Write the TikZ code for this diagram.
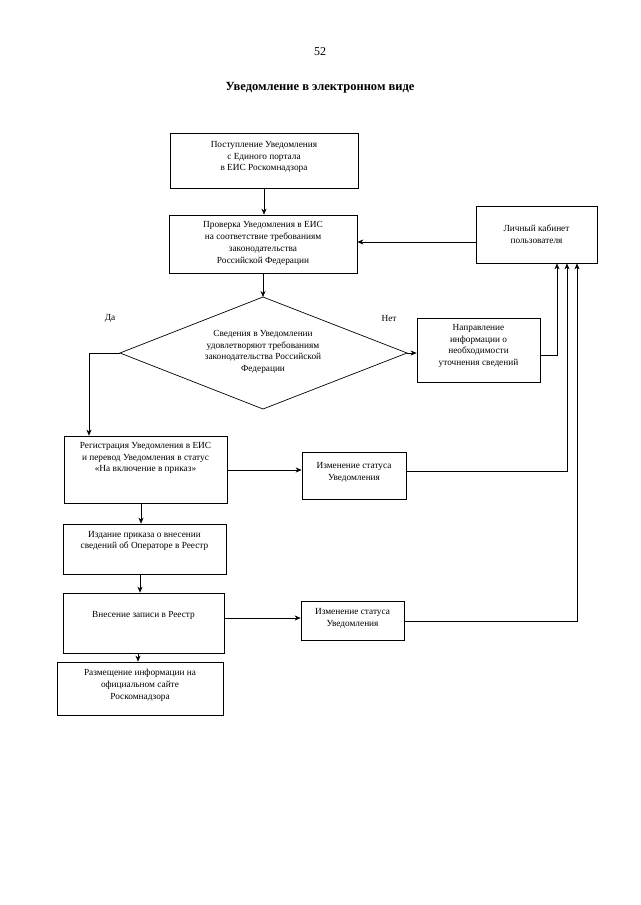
\documentclass[tikz,border=0pt]{standalone}
\usepackage{fontspec}
\setmainfont{Liberation Serif}
\usetikzlibrary{arrows.meta,calc}
\begin{document}
\begin{tikzpicture}[x=1pt,y=-1pt,
  box/.style={draw, line width=0.7pt, inner sep=0pt},
  txt/.style={align=center, font=\fontsize{9.3}{11.8}\selectfont, inner sep=0pt},
  arr/.style={-{Stealth[length=6pt,width=5pt]}, line width=0.6pt},
  ln/.style={line width=0.6pt}]
\fill[white] (0,0) rectangle (640,905);
\path[use as bounding box] (0,0) rectangle (640,905);

% header
\node[font=\fontsize{12}{14}\selectfont] (pg) at (320,52) {52};
\node[font=\fontsize{12.5}{15}\selectfont\bfseries] (title) at (320,88) {Уведомление в электронном виде};

% boxes
\node[box, minimum width=188pt, minimum height=55pt] (b1) at (264,161) {};
\node[txt] (t1) at (264,157) {Поступление Уведомления\\с Единого портала\\в ЕИС Роскомнадзора};

\node[box, minimum width=188pt, minimum height=58pt] (b2) at (263,244) {};
\node[txt] (t2) at (263,243.5) {Проверка Уведомления в ЕИС\\на соответствие требованиям\\законодательства\\Российской Федерации};

% decision diamond
\coordinate (dT) at (263,297);
\coordinate (dL) at (120,353);
\coordinate (dR) at (407,353);
\coordinate (dB) at (263,409);
\draw[line width=0.7pt] (dT) -- (dR) -- (dB) -- (dL) -- cycle;
\node[txt] (td) at (263,352) {Сведения в Уведомлении\\удовлетворяют требованиям\\законодательства Российской\\Федерации};
\node[txt] (yes) at (110,318) {Да};
\node[txt] (no) at (389,318) {Нет};

\node[box, minimum width=121pt, minimum height=57pt] (cab) at (536.5,234.5) {};
\node[txt] (tcab) at (536.5,234) {Личный кабинет\\пользователя};

\node[box, minimum width=123pt, minimum height=64pt] (napr) at (478.5,350) {};
\node[txt] (tnapr) at (478.5,346) {Направление\\информации о\\необходимости\\уточнения сведений};

\node[box, minimum width=163pt, minimum height=67pt] (reg) at (145.5,469.5) {};
\node[txt] (treg) at (145.5,458) {Регистрация Уведомления в ЕИС\\и перевод Уведомления в статус\\«На включение в приказ»};

\node[box, minimum width=104pt, minimum height=47pt] (izm1) at (354,475.5) {};
\node[txt] (tizm1) at (354,472) {Изменение статуса\\Уведомления};

\node[box, minimum width=163pt, minimum height=50pt] (izd) at (144.5,549) {};
\node[txt] (tizd) at (144.5,541) {Издание приказа о внесении\\сведений об Операторе в Реестр};

\node[box, minimum width=161pt, minimum height=60pt] (vn) at (143.5,623) {};
\node[txt] (tvn) at (143.5,615) {Внесение записи в Реестр};

\node[box, minimum width=103pt, minimum height=39pt] (izm2) at (352.5,620.5) {};
\node[txt] (tizm2) at (352.5,618) {Изменение статуса\\Уведомления};

\node[box, minimum width=166pt, minimum height=53pt] (razm) at (140,688.5) {};
\node[txt] (trazm) at (140,685) {Размещение информации на\\официальном сайте\\Роскомнадзора};

% helper coordinates
\coordinate (yx) at (89,0);
\coordinate (v1) at (141,0);
\coordinate (v2) at (140,0);
\coordinate (v3) at (138,0);
\coordinate (c1) at ($(cab.south)+(20.5,0)$);
\coordinate (c2) at ($(cab.south)+(30.5,0)$);
\coordinate (c3) at ($(cab.south)+(40.5,0)$);

% connectors
\draw[arr] (b1.south) -- (b1.south |- b2.north);
\draw[arr] (cab.west |- 0,242) -- (b2.east |- 0,242);
\draw[arr] (b2.south -| dT) -- (dT);
\draw[arr] (dL) -- (dL -| yx) -- (reg.north -| yx);
\draw[arr] (dR) -- (dR -| napr.west);
\draw[arr] (napr.east |- 0,355) -| (c1);
\draw[arr] (reg.east |- 0,470) -- (izm1.west |- 0,470);
\draw[arr] (izm1.east |- 0,471) -| (c2);
\draw[arr] (reg.south -| v1) -- (izd.north -| v1);
\draw[arr] (izd.south -| v2) -- (vn.north -| v2);
\draw[arr] (vn.east |- 0,618) -- (izm2.west |- 0,618);
\draw[arr] (izm2.east |- 0,621) -| (c3);
\draw[arr] (vn.south -| v3) -- (razm.north -| v3);
\end{tikzpicture}
\end{document}
